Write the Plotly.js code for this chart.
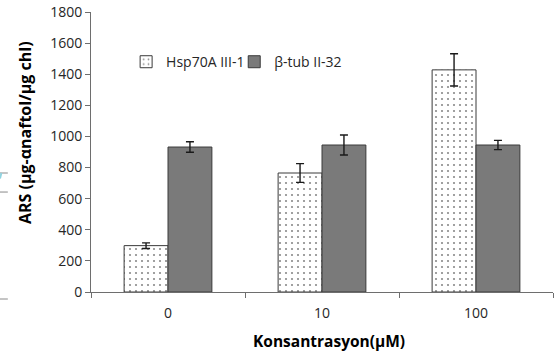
<!DOCTYPE html>
<html>
<head>
<meta charset="utf-8">
<script src="https://cdn.plot.ly/plotly-3.0.1.min.js"></script>
<style>
  html, body { margin: 0; padding: 0; background: #fff; }
  #chart { width: 558px; height: 358px; }
</style>
</head>
<body>
<div id="chart"></div>
<script>
// Concentrations (µM) on the category axis
const concentrations = ['0', '10', '100'];

// ARS activity, µg α-naphthol / µg chl
const hspValues = [298, 765, 1428];
const hspErrors = [18, 60, 104];

const tubValues = [932, 945, 945];
const tubErrors = [34, 64, 30];

const seriesNames = ['Hsp70A III-1', 'β-tub II-32'];

const yTicks = [0, 200, 400, 600, 800, 1000, 1200, 1400, 1600, 1800];

const xTitle = 'Konsantrasyon(μM)';
const yTitle = 'ARS (μg-αnaftol/μg chl)';

const FONT = '"Open Sans", "Liberation Sans", sans-serif';

const errStyle = { type: 'data', visible: true, color: '#1a1a1a', thickness: 1.4, width: 4 };

const traces = [
  {
    type: 'bar',
    name: seriesNames[0],
    legend: 'legend',
    x: concentrations,
    y: hspValues,
    error_y: Object.assign({ array: hspErrors }, errStyle),
    marker: {
      color: '#ffffff',
      line: { color: '#3a3a3a', width: 1 },
      pattern: { shape: '.', fgcolor: '#8a8a8a', bgcolor: '#ffffff', size: 6, solidity: 0.1 }
    }
  },
  {
    type: 'bar',
    name: seriesNames[1],
    legend: 'legend2',
    x: concentrations,
    y: tubValues,
    error_y: Object.assign({ array: tubErrors }, errStyle),
    marker: {
      color: '#7a7a7a',
      line: { color: '#3a3a3a', width: 1 }
    }
  }
];

// Short guide marks at the left margin
const markLine = { color: '#8a8a8a', width: 1 };
const shapes = [
  { type: 'line', xref: 'paper', yref: 'paper', x0: -0.197, x1: -0.180, y0: 0.425, y1: 0.425, line: markLine },
  { type: 'line', xref: 'paper', yref: 'paper', x0: -0.197, x1: -0.180, y0: 0.357, y1: 0.357, line: markLine },
  { type: 'line', xref: 'paper', yref: 'paper', x0: -0.197, x1: -0.180, y0: -0.025, y1: -0.025, line: markLine },
  { type: 'line', xref: 'paper', yref: 'paper', x0: -0.197, x1: -0.194, y0: 0.405, y1: 0.425, line: { color: '#8fd3e0', width: 2 } }
];

const legendBase = {
  orientation: 'h',
  xanchor: 'left',
  y: 0.821, yanchor: 'middle',
  font: { family: FONT, size: 14, color: '#262626' },
  itemwidth: 30,
  bgcolor: 'rgba(0,0,0,0)'
};

const layout = {
  width: 558,
  height: 358,
  margin: { l: 91, r: 5, t: 12, b: 66 },
  paper_bgcolor: '#ffffff',
  plot_bgcolor: '#ffffff',
  font: { family: FONT, size: 14, color: '#262626' },
  barmode: 'group',
  bargap: 0.43,
  bargroupgap: 0,
  showlegend: true,
  legend: Object.assign({ x: 0.076 }, legendBase),
  legend2: Object.assign({ x: 0.31 }, legendBase),
  xaxis: {
    type: 'category',
    range: [-0.5, 2.5],
    showline: true,
    linecolor: '#6e6e6e',
    linewidth: 1,
    ticks: 'outside',
    tickson: 'boundaries',
    ticklen: 5,
    tickcolor: '#6e6e6e',
    ticklabelstandoff: 8,
    showgrid: false,
    zeroline: false,
    tickfont: { family: FONT, size: 14, color: '#262626' }
  },
  yaxis: {
    range: [0, 1800],
    tickvals: yTicks,
    ticktext: yTicks.map(String),
    showline: true,
    linecolor: '#6e6e6e',
    linewidth: 1,
    ticks: 'outside',
    ticklen: 5,
    tickcolor: '#6e6e6e',
    showgrid: false,
    zeroline: false,
    tickfont: { family: FONT, size: 14, color: '#262626' }
  },
  annotations: [
    {
      text: xTitle, xref: 'paper', yref: 'paper', x: 0.515, y: -0.175,
      xanchor: 'center', yanchor: 'middle', showarrow: false,
      font: { family: FONT, size: 15.5, color: '#000000', weight: 'bold' }
    },
    {
      text: yTitle, xref: 'paper', yref: 'paper', x: -0.143, y: 0.571,
      xanchor: 'center', yanchor: 'middle', showarrow: false, textangle: -90,
      font: { family: FONT, size: 16, color: '#000000', weight: 'bold' }
    }
  ],
  shapes: shapes
};

Plotly.newPlot('chart', traces, layout, { displayModeBar: false, staticPlot: true });
</script>
</body>
</html>
